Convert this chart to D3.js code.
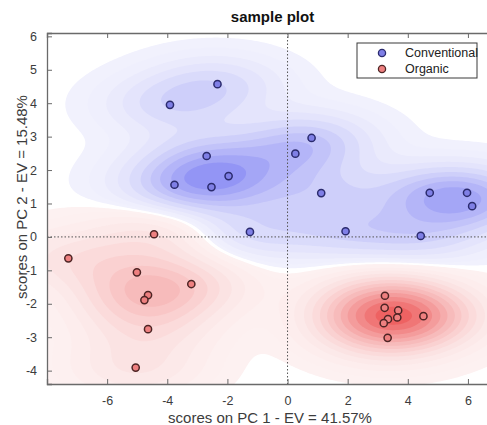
<!DOCTYPE html>
<html>
<head>
<meta charset="utf-8">
<script src="https://cdn.jsdelivr.net/npm/d3@7"></script>
<style>
  body { margin: 0; background: #fff; }
  svg { display: block; font-family: "Liberation Sans", Arial, sans-serif; }
</style>
</head>
<body>
<svg width="487" height="425"></svg>
<script>
// scores
const convX = [-2.33, -3.91, -2.69, -1.96, -3.76, -2.53, 0.80, 0.26, 1.12, -1.25, 1.93, 4.73, 5.97, 6.14, 4.43];
const convY = [4.57, 3.95, 2.42, 1.82, 1.56, 1.49, 2.96, 2.49, 1.31, 0.15, 0.17, 1.32, 1.32, 0.92, 0.03];
const orgX = [-4.44, -7.29, -5.01, -3.20, -4.64, -4.76, -4.64, -5.05, 3.24, 3.23, 3.68, 3.65, 3.34, 3.20, 4.52, 3.33];
const orgY = [0.08, -0.64, -1.06, -1.41, -1.74, -1.89, -2.76, -3.91, -1.76, -2.12, -2.20, -2.41, -2.46, -2.58, -2.37, -3.02];
const xTicks = [-6, -4, -2, 0, 2, 4, 6];
const yTicks = [-4, -3, -2, -1, 0, 1, 2, 3, 4, 5, 6];
const legendNames = ["Conventional", "Organic"];

const svg = d3.select("svg");
const plotLeft = 47, plotRight = 498, plotTop = 33, plotBottom = 384;

const x = d3.scaleLinear().domain([-8, 7]).range([plotLeft, plotRight]);
const y = d3.scaleLinear().domain([-4.4, 6.1]).range([plotBottom, plotTop]);

svg.append("defs").append("clipPath").attr("id", "clip")
  .append("rect").attr("x", plotLeft).attr("y", plotTop)
  .attr("width", plotRight - plotLeft).attr("height", plotBottom - plotTop);

// density field (anisotropic gaussian kernel), blue minus red
const bx = 1.5, by = 0.6, step = 2;
const nx = Math.ceil((plotRight - plotLeft) / step), ny = Math.ceil((plotBottom - plotTop) / step);
const field = new Float64Array(nx * ny);
function dens(xs, ys, dx, dy) {
  let s = 0;
  for (let k = 0; k < xs.length; k++) {
    const a = (dx - xs[k]) / bx, b = (dy - ys[k]) / by;
    s += Math.exp(-0.5 * (a * a + b * b));
  }
  return s;
}
for (let j = 0; j < ny; j++) {
  const dy = y.invert(plotTop + (j + 0.5) * step);
  for (let i = 0; i < nx; i++) {
    const dx = x.invert(plotLeft + (i + 0.5) * step);
    field[j * nx + i] = dens(convX, convY, dx, dy) - dens(orgX, orgY, dx, dy);
  }
}
const negField = field.map(v => -v);

const blueLevels = [0.07, 0.2, 0.4, 0.65, 0.95, 1.3, 1.65, 2.0, 2.4, 2.8, 3.2];
const redLevels = [0.07, 0.2, 0.4, 0.7, 1.05, 1.45, 1.9, 2.4, 2.9, 3.5, 4.1, 4.8, 5.5, 6.2];

const gridPath = d3.geoPath(d3.geoTransform({
  point: function(px, py) { this.stream.point(plotLeft + px * step, plotTop + py * step); }
}));

const contourG = svg.append("g").attr("clip-path", "url(#clip)");
contourG.append("rect").attr("x", plotLeft).attr("y", plotTop)
  .attr("width", plotRight - plotLeft).attr("height", plotBottom - plotTop).attr("fill", "#fff");

const blueCol = d3.interpolateRgb("rgb(241,241,253)", "rgb(130,132,243)");
const redCol = d3.interpolateRgb("rgb(253,241,241)", "rgb(238,98,98)");
const tone = (v, levels) => Math.pow((v - levels[0]) / (levels[levels.length - 1] - levels[0]), 1.25);

contourG.selectAll("path.blue")
  .data(d3.contours().size([nx, ny]).thresholds(blueLevels)(field))
  .enter().append("path")
  .attr("class", "blue")
  .attr("d", gridPath)
  .attr("fill", d => blueCol(tone(d.value, blueLevels)));

contourG.selectAll("path.red")
  .data(d3.contours().size([nx, ny]).thresholds(redLevels)(negField))
  .enter().append("path")
  .attr("class", "red")
  .attr("d", gridPath)
  .attr("fill", d => redCol(tone(d.value, redLevels)));

// zero lines
contourG.append("line")
  .attr("x1", x(0)).attr("x2", x(0)).attr("y1", plotTop).attr("y2", plotBottom)
  .attr("stroke", "#555").attr("stroke-width", 1).attr("stroke-dasharray", "1.5,2");
contourG.append("line")
  .attr("x1", plotLeft).attr("x2", plotRight).attr("y1", y(0)).attr("y2", y(0))
  .attr("stroke", "#555").attr("stroke-width", 1).attr("stroke-dasharray", "1.5,2");

// points
const conv = convX.map((v, i) => ({x: v, y: convY[i]}));
const org = orgX.map((v, i) => ({x: v, y: orgY[i]}));

contourG.selectAll("circle.conv").data(conv).enter().append("circle")
  .attr("cx", d => x(d.x)).attr("cy", d => y(d.y)).attr("r", 3.6)
  .attr("fill", "#7f7fe6").attr("stroke", "#2b2b6e").attr("stroke-width", 1.5);

contourG.selectAll("circle.org").data(org).enter().append("circle")
  .attr("cx", d => x(d.x)).attr("cy", d => y(d.y)).attr("r", 3.6)
  .attr("fill", "#ee8080").attr("stroke", "#4e2424").attr("stroke-width", 1.5);

// axes, MATLAB style box with inward ticks
const axisColor = "#6a6a6a";
const xAxis = svg.append("g").attr("transform", `translate(0,${plotBottom})`)
  .call(d3.axisBottom(x).tickValues(xTicks).tickSize(-5).tickPadding(12));
const xTop = svg.append("g").attr("transform", `translate(0,${plotTop})`)
  .call(d3.axisTop(x).tickValues(xTicks).tickSize(-5).tickFormat(""));
const yAxis = svg.append("g").attr("transform", `translate(${plotLeft},0)`)
  .call(d3.axisLeft(y).tickValues(yTicks).tickSize(-5).tickPadding(10));
[xAxis, xTop, yAxis].forEach(g => {
  g.select(".domain").attr("stroke", axisColor).attr("stroke-width", 1.3);
  g.selectAll(".tick line").attr("stroke", axisColor);
  g.selectAll(".tick text").attr("fill", "#3c3c3c").attr("font-size", "12.5px")
    .text(d => d < 0 ? "-" + Math.abs(d) : d);
});
xTop.selectAll(".tick text").remove();

// titles
svg.append("text").attr("x", (plotLeft + plotRight) / 2).attr("y", 22)
  .attr("text-anchor", "middle").attr("font-size", "15px").attr("font-weight", "bold")
  .attr("fill", "#111").text("sample plot");
svg.append("text").attr("x", 270).attr("y", 423)
  .attr("text-anchor", "middle").attr("font-size", "15px").attr("fill", "#3c3c3c")
  .text("scores on PC 1 - EV = 41.57%");
svg.append("text")
  .attr("transform", `translate(21,197) rotate(-90)`)
  .attr("text-anchor", "middle").attr("dominant-baseline", "central")
  .attr("font-size", "15px").attr("fill", "#3c3c3c")
  .text("scores on PC 2 - EV = 15.48%");

// legend
const legend = svg.append("g").attr("transform", "translate(357,43)");
legend.append("rect").attr("width", 120).attr("height", 35)
  .attr("fill", "#fff").attr("stroke", "#3a3a3a").attr("stroke-width", 1);
const legendFill = ["#7f7fe6", "#ee8080"], legendStroke = ["#2b2b6e", "#4e2424"];
legendNames.forEach((name, i) => {
  legend.append("circle").attr("cx", 25).attr("cy", 10 + i * 16).attr("r", 3.6)
    .attr("fill", legendFill[i]).attr("stroke", legendStroke[i]).attr("stroke-width", 1.3);
  legend.append("text").attr("x", 48).attr("y", 10 + i * 16)
    .attr("dominant-baseline", "central").attr("font-size", "12.5px").attr("fill", "#222")
    .text(name);
});
</script>
</body>
</html>
